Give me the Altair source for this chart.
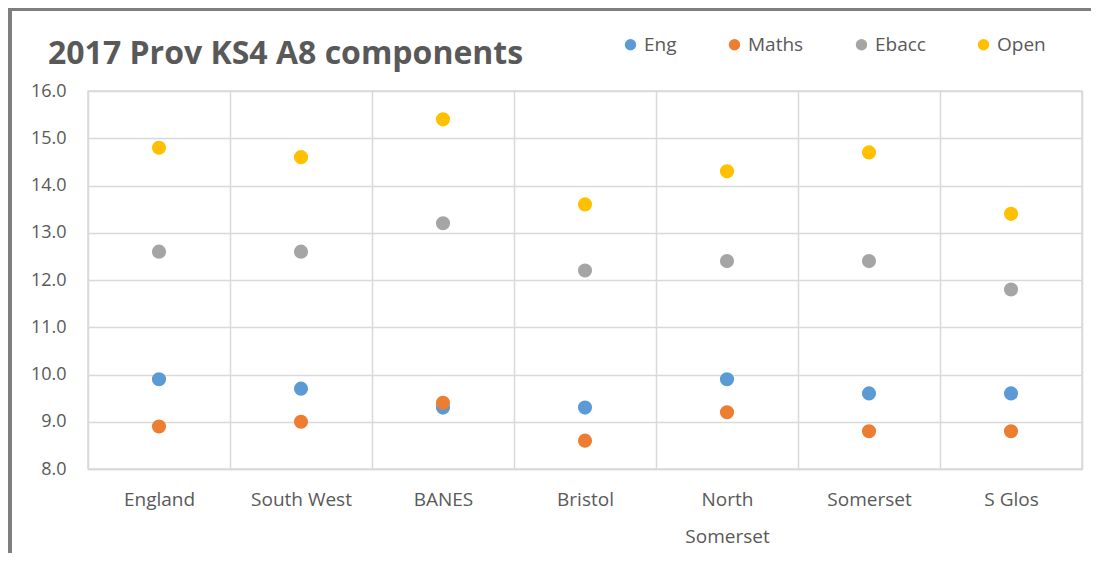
import altair as alt
import pandas as pd

categories = ["England", "South West", "BANES", "Bristol", "North|Somerset", "Somerset", "S Glos"]
series = ["Eng", "Maths", "Ebacc", "Open"]
eng = [9.9, 9.7, 9.3, 9.3, 9.9, 9.6, 9.6]
maths = [8.9, 9.0, 9.4, 8.6, 9.2, 8.8, 8.8]
ebacc = [12.6, 12.6, 13.2, 12.2, 12.4, 12.4, 11.8]
open_ = [14.8, 14.6, 15.4, 13.6, 14.3, 14.7, 13.4]
colors = ["#5B9BD5", "#ED7D31", "#A5A5A5", "#FFC000"]

rows = []
for s, vals in zip(series, [eng, maths, ebacc, open_]):
    for c, v in zip(categories, vals):
        rows.append({"region": c, "series": s, "value": v})
df = pd.DataFrame(rows)

FONT = "Open Sans"
TXT = "#595959"

points = alt.Chart(df).mark_circle(size=200, opacity=1).encode(
    x=alt.X("region:N", sort=categories,
            scale=alt.Scale(paddingInner=0, paddingOuter=0),
            axis=alt.Axis(title=None, grid=True, tickBand="extent", gridColor="#d9d9d9",
                          gridWidth=1.5, ticks=False, domainColor="#d9d9d9", domainWidth=1.5,
                          labelAngle=0, labelFont=FONT, labelFontSize=19, labelColor=TXT,
                          labelPadding=21, labelLineHeight=37,
                          labelExpr="split(datum.label, '|')")),
    y=alt.Y("value:Q", scale=alt.Scale(domain=[8, 16], nice=False, zero=False),
            axis=alt.Axis(title=None, values=[8, 9, 10, 11, 12, 13, 14, 15, 16], format=".1f",
                          grid=True, gridColor="#d9d9d9", gridWidth=1.5, ticks=False,
                          domain=False, labelFont=FONT, labelFontSize=18, labelColor=TXT,
                          labelPadding=22)),
    color=alt.Color("series:N", sort=series,
                    scale=alt.Scale(domain=series, range=colors),
                    legend=alt.Legend(title=None, orient="none", direction="horizontal",
                                      legendX=533, legendY=-56, symbolType="circle",
                                      symbolSize=130, labelFont=FONT, labelFontSize=19,
                                      labelColor=TXT, columnPadding=48, labelOffset=4)),
)

frame_left = alt.Chart(df).mark_rule(color="#7f7f7f", strokeWidth=3).encode(
    x=alt.value(-78), y=alt.value(-83), y2=alt.value(480))
frame_top = alt.Chart(df).mark_rule(color="#7f7f7f", strokeWidth=3).encode(
    x=alt.value(-79), x2=alt.value(1030), y=alt.value(-82))

chart = alt.layer(frame_left, frame_top, points).properties(
    width=994, height=378,
    autosize=alt.AutoSizeParams(type="none"),
    padding={"left": 80, "top": 83, "right": 9, "bottom": 84},
    title=alt.Title("2017 Prov KS4 A8 components", anchor="start", frame="group",
                    dx=-40, dy=88, offset=24,
                    font=FONT, fontSize=32, fontWeight="bold", color=TXT),
).configure_view(stroke="#d9d9d9", strokeWidth=1.5)

chart.save("out.html", embed_options={"renderer": "svg", "actions": False})
